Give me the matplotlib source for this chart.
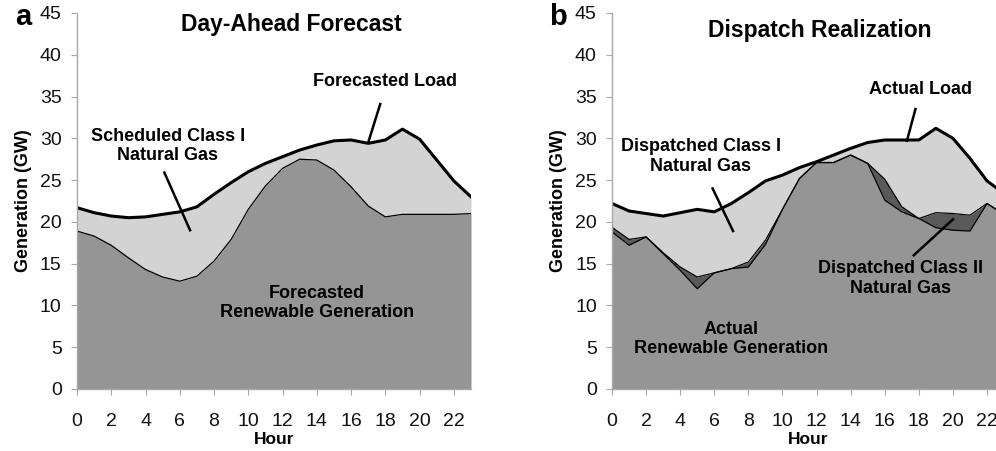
import numpy as np
import matplotlib
matplotlib.use('Agg')
from matplotlib import pyplot as plt

plt.rcParams['font.family'] = ['Liberation Sans', 'DejaVu Sans']

hours = np.arange(24)

# day-ahead forecast (GW)
forecast_load = [21.7, 21.1, 20.7, 20.5, 20.6, 20.9, 21.2, 21.8, 23.3, 24.7, 26.0, 27.0,
                 27.8, 28.6, 29.2, 29.7, 29.8, 29.4, 29.8, 31.1, 29.9, 27.4, 24.9, 23.0]
forecast_renew = [18.9, 18.3, 17.2, 15.7, 14.3, 13.4, 12.9, 13.5, 15.3, 17.9, 21.5, 24.3,
                  26.4, 27.5, 27.4, 26.2, 24.2, 21.9, 20.6, 20.9, 20.9, 20.9, 20.9, 21.0]

# dispatch realization (GW)
actual_load = [22.2, 21.3, 21.0, 20.7, 21.1, 21.5, 21.2, 22.2, 23.5, 24.9, 25.6, 26.5,
               27.2, 28.0, 28.8, 29.5, 29.8, 29.8, 29.8, 31.2, 30.0, 27.6, 24.9, 23.4]
actual_renew = [18.8, 17.2, 18.2, 16.2, 14.2, 12.0, 13.9, 14.4, 14.6, 17.3, 21.5, 25.2,
                27.1, 27.1, 28.0, 27.0, 22.6, 21.2, 20.4, 19.3, 19.0, 18.9, 22.2, 20.9]
class2_gas = [0.55, 0.7, 0.0, 0.1, 0.4, 1.4, 0.0, 0.0, 0.6, 0.5, 0.0, 0.0,
              0.0, 0.0, 0.0, 0.0, 2.5, 0.6, 0.0, 1.8, 2.0, 1.9, 0.0, 0.0]

C_RENEW = '#959595'
C_CLASS1 = '#d3d3d3'
C_CLASS2 = '#595959'
C_SPINE = '#a8a8a8'
NOTE_SIZE = 13


def style_axes(ax):
    ax.set_xlim(0, 23)
    ax.set_ylim(0, 45)
    ax.set_xticks(range(0, 23, 2))
    ax.set_yticks(range(0, 46, 5))
    for s in ['top', 'right']:
        ax.spines[s].set_visible(False)
    for s in ['left', 'bottom']:
        ax.spines[s].set_color(C_SPINE)
        ax.spines[s].set_linewidth(1.0)
    ax.tick_params(axis='both', colors=C_SPINE, labelcolor='#111111',
                   labelsize=14, length=4, direction='out')
    ax.tick_params(axis='x', pad=13)
    ax.tick_params(axis='y', pad=7)
    ax.set_xlabel('Hour', fontsize=12.5, fontweight='bold', labelpad=2)
    ax.set_ylabel('Generation (GW)', fontsize=13, fontweight='bold')
    ax.yaxis.set_label_coords(-0.115, 0.5)
    ax.set_axisbelow(False)


def note(ax, text, xy, xytext, line_from):
    ax.text(xytext[0], xytext[1], text, ha='center', va='center',
            fontsize=NOTE_SIZE, fontweight='bold', linespacing=1.2)
    ax.plot([line_from[0], xy[0]], [line_from[1], xy[1]], color='black', lw=1.8)


fig = plt.figure(figsize=(9.96, 4.51), dpi=100)

# panel a
ax1 = fig.add_axes([0.0773, 0.1375, 0.3956, 0.8337])
load = np.array(forecast_load)
ren = np.array(forecast_renew)
ax1.fill_between(hours, 0, ren, color=C_RENEW, lw=0)
ax1.fill_between(hours, ren, load, color=C_CLASS1, lw=0)
ax1.plot(hours, ren, color='black', lw=0.9)
ax1.plot(hours, load, color='black', lw=2.2, solid_joinstyle='round')
ax1.plot([23, 23], [0, load[-1]], color='#444444', lw=0.8)
style_axes(ax1)
ax1.text(12.5, 43.6, 'Day-Ahead Forecast', ha='center', va='center',
         fontsize=16.5, fontweight='bold')
note(ax1, 'Forecasted Load', (17.0, 29.5), (18.0, 36.8), (17.7, 34.1))
note(ax1, 'Scheduled Class I\nNatural Gas', (6.6, 19.0), (5.3, 29.1), (5.1, 25.9))
ax1.text(14.0, 10.3, 'Forecasted\nRenewable Generation', ha='center', va='center',
         fontsize=NOTE_SIZE, fontweight='bold', linespacing=1.2)
fig.text(0.015, 0.962, 'a', fontsize=21, fontweight='bold', ha='left', va='center')

# panel b
ax2 = fig.add_axes([0.6145, 0.1375, 0.3936, 0.8337])
load = np.array(actual_load)
ren = np.array(actual_renew)
top2 = ren + np.array(class2_gas)
ax2.fill_between(hours, 0, ren, color=C_RENEW, lw=0)
ax2.fill_between(hours, ren, top2, color=C_CLASS2, lw=0)
ax2.fill_between(hours, top2, load, color=C_CLASS1, lw=0)
ax2.plot(hours, ren, color='black', lw=0.9)
ax2.plot(hours, top2, color='black', lw=0.9)
ax2.plot(hours, load, color='black', lw=2.2, solid_joinstyle='round')
style_axes(ax2)
ax2.text(12.2, 42.9, 'Dispatch Realization', ha='center', va='center',
         fontsize=16.5, fontweight='bold')
note(ax2, 'Actual Load', (17.3, 29.7), (18.1, 35.8), (17.8, 33.5))
note(ax2, 'Dispatched Class I\nNatural Gas', (7.1, 18.9), (5.2, 27.8), (5.9, 24.0))
note(ax2, 'Dispatched Class II\nNatural Gas', (20.0, 20.3), (16.9, 13.2), (17.7, 16.0))
ax2.text(7.0, 6.0, 'Actual\nRenewable Generation', ha='center', va='center',
         fontsize=NOTE_SIZE, fontweight='bold', linespacing=1.2)
fig.text(0.551, 0.962, 'b', fontsize=21, fontweight='bold', ha='left', va='center')

fig.savefig('out.png', dpi=100)
